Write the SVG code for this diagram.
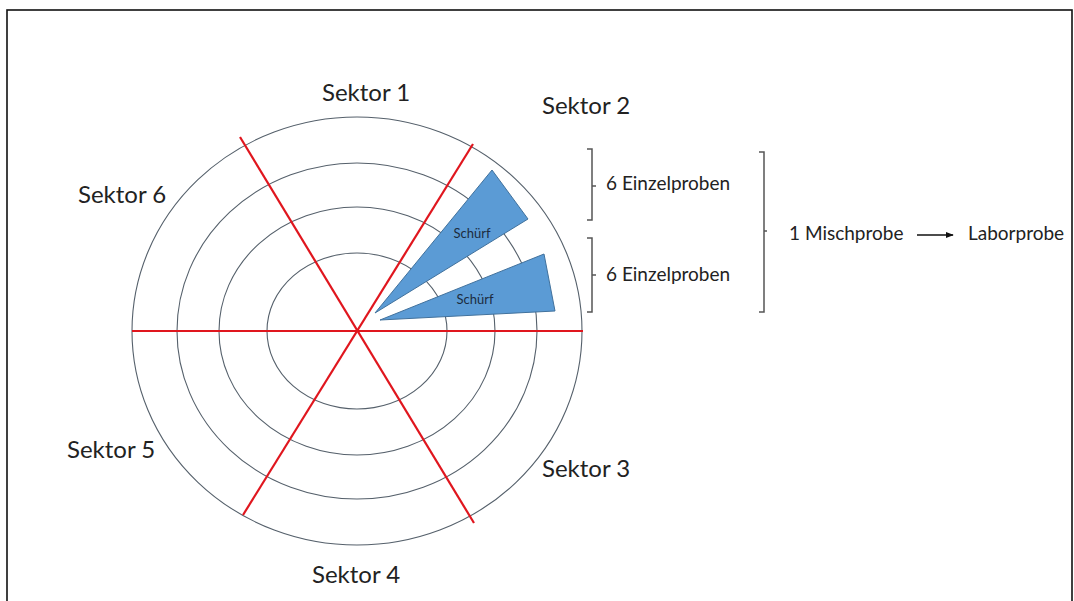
<svg xmlns="http://www.w3.org/2000/svg" width="1074" height="601" viewBox="0 0 1074 601">
<style>
.ring{fill:none;stroke:#55606b;stroke-width:1.1}
.red{stroke:#e0161e;stroke-width:2.2;fill:none}
.wedge{fill:#5b9bd5;stroke:#41719c;stroke-width:1}
.brk{fill:none;stroke:#555;stroke-width:1.5}
.lbl{font-family:Lato,"Liberation Sans",sans-serif;fill:#222}
.sek{font-size:24px}
.mid{font-size:19px}
.sch{font-size:13px;fill:#1b2b40;text-anchor:middle}
</style>
<defs>
<marker id="ah" viewBox="0 0 10 10" refX="9" refY="5" markerWidth="8" markerHeight="8" orient="auto" markerUnits="userSpaceOnUse">
<path d="M0,1 L10,5 L0,9 z" fill="#111"/>
</marker>
</defs>
<rect x="0" y="0" width="1074" height="601" fill="#fff"/>
<rect x="7" y="10" width="1065" height="600" fill="none" stroke="#111" stroke-width="1.6"/>
<g id="rings">
<ellipse class="ring" cx="357" cy="331" rx="225" ry="214"/>
<ellipse class="ring" cx="357" cy="331" rx="180" ry="168"/>
<ellipse class="ring" cx="357" cy="331" rx="138" ry="124"/>
<ellipse class="ring" cx="357" cy="331" rx="90" ry="78"/>
</g>
<g id="connectors">
<line class="red" x1="132" y1="331" x2="583" y2="331"/>
<line class="red" x1="243" y1="515" x2="473" y2="144"/>
<line class="red" x1="240" y1="137" x2="474" y2="523"/>
<line x1="917" y1="235" x2="953" y2="235" stroke="#111" stroke-width="1.3" marker-end="url(#ah)"/>
</g>
<g id="wedge1">
<polygon class="wedge" points="375,313 492,170 528,219"/>
<text class="lbl sch" x="472" y="238">Schürf</text>
</g>
<g id="wedge2">
<polygon class="wedge" points="380,320 544,254 555,311"/>
<text class="lbl sch" x="475" y="304">Schürf</text>
</g>
<g id="sektor1"><text class="lbl sek" x="322" y="101">Sektor 1</text></g>
<g id="sektor2"><text class="lbl sek" x="542" y="114">Sektor 2</text></g>
<g id="sektor3"><text class="lbl sek" x="542" y="477">Sektor 3</text></g>
<g id="sektor4"><text class="lbl sek" x="312" y="583">Sektor 4</text></g>
<g id="sektor5"><text class="lbl sek" x="67" y="458">Sektor 5</text></g>
<g id="sektor6"><text class="lbl sek" x="78" y="203">Sektor 6</text></g>
<g id="bracket1">
<path class="brk" d="M587,149 H592 V220 H587 M592,186 H596"/>
<text class="lbl mid" x="606" y="190">6 Einzelproben</text>
</g>
<g id="bracket2">
<path class="brk" d="M587,238 H592 V312 H587 M592,275 H596"/>
<text class="lbl mid" x="606" y="281">6 Einzelproben</text>
</g>
<g id="mischprobe">
<path class="brk" d="M759,152 H764 V312 H759 M764,231 H767"/>
<text class="lbl mid" x="789" y="240">1 Mischprobe</text>
</g>
<g id="laborprobe">
<text class="lbl mid" x="968" y="240">Laborprobe</text>
</g>
</svg>
